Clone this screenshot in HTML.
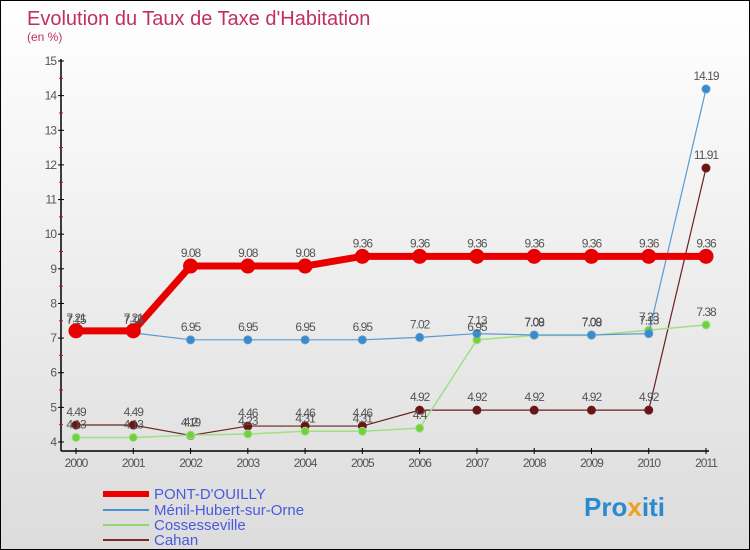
<!DOCTYPE html>
<html><head><meta charset="utf-8"><style>
body{margin:0}
#c{width:748px;height:548px;border:1px solid #000;background:linear-gradient(#fff,#dcdcdc);position:relative;overflow:hidden;font-family:"Liberation Sans",sans-serif}
</style></head><body>
<div id="c">
<svg width="748" height="548" id="s" style="position:absolute;left:0;top:0">
<text x="26" y="24" font-size="20" fill="#c0305f">Evolution du Taux de Taxe d'Habitation</text>
<text x="26" y="40" font-size="12" fill="#c0305f">(en %)</text>
<g id="axes"></g><g id="series"></g><g id="labels"></g>
<g>
<line x1="102" y1="493" x2="148" y2="493" stroke="#e00" stroke-width="6"/>
<text x="153" y="498" font-size="15" fill="#4a5adc">PONT-D'OUILLY</text>
<line x1="102" y1="509" x2="148" y2="509" stroke="#4a90d0" stroke-width="2"/>
<text x="153" y="514" font-size="15" fill="#4a5adc">Ménil-Hubert-sur-Orne</text>
<line x1="102" y1="524" x2="148" y2="524" stroke="#90d870" stroke-width="2"/>
<text x="153" y="529" font-size="15" fill="#4a5adc">Cossesseville</text>
<line x1="102" y1="539" x2="148" y2="539" stroke="#7a2a2a" stroke-width="2"/>
<text x="153" y="544" font-size="15" fill="#4a5adc">Cahan</text>
</g>
<text x="583" y="515" font-size="26" font-weight="bold" fill="#2a8ad0">Pro<tspan fill="#f0a020">x</tspan>iti</text>
</svg>
</div>
<script>
const years=[2000,2001,2002,2003,2004,2005,2006,2007,2008,2009,2010,2011];
const pont=[7.21,7.21,9.08,9.08,9.08,9.36,9.36,9.36,9.36,9.36,9.36,9.36];
const menil=[7.15,7.15,6.95,6.95,6.95,6.95,7.02,7.13,7.09,7.09,7.13,14.19];
const cosse=[4.13,4.13,4.2,4.23,4.31,4.31,4.4,6.95,7.08,7.08,7.23,7.38];
const cahan=[4.49,4.49,4.19,4.46,4.46,4.46,4.92,4.92,4.92,4.92,4.92,11.91];
const yTicks=[4,5,6,7,8,9,10,11,12,13,14,15];
const NS="http://www.w3.org/2000/svg";
const X=i=>75+i*(630/11);
const Y=v=>441-(v-4)*(381/11);
function mk(t,a,p){const e=document.createElementNS(NS,t);for(const k in a)e.setAttribute(k,a[k]);p.appendChild(e);return e;}
const ax=document.getElementById('axes');
let l=mk('line',{x1:60,y1:58,x2:60,y2:450,stroke:'#000','stroke-width':1.5},ax);


l=mk('line',{x1:60,y1:450,x2:708,y2:450,stroke:'#000','stroke-width':1.5},ax);


yTicks.forEach(v=>{
 mk('line',{x1:57,x2:63,y1:Y(v),y2:Y(v),stroke:'#000'},ax);
 if(v<15)mk('line',{x1:58,x2:62,y1:Y(v+0.5),y2:Y(v+0.5),stroke:'#e00'},ax);
 const t=mk('text',{x:55,y:Y(v)+4,'font-size':12,fill:'#555','text-anchor':'end','letter-spacing':'-1'},ax);
 t.textContent=v;
 
 
});
years.forEach((y,i)=>{
 mk('line',{x1:X(i),x2:X(i),y1:447,y2:453,stroke:'#000'},ax);
 const t=mk('text',{x:X(i),y:466,'font-size':12,fill:'#555','text-anchor':'middle','letter-spacing':'-1'},ax);
 t.textContent=y;
 
 
});
const sg=document.getElementById('series'),lg=document.getElementById('labels');
function series(d,name,col,w,r,fill){
 const p=mk('polyline',{points:d.map((v,i)=>X(i)+','+Y(v)).join(' '),fill:'none',stroke:col,'stroke-width':w,'stroke-linejoin':'round'},sg);
 
 
 d.forEach((v,i)=>{
  const c=mk('circle',{cx:X(i),cy:Y(v),r:r,fill:fill,stroke:col,'stroke-width':1},sg);
  
  
  const t=mk('text',{x:X(i),y:Y(v)-9,'font-size':12,fill:'#555','text-anchor':'middle','letter-spacing':'-1'},lg);
  t.textContent=v;
  
  
 });
}
series(cahan,'cahan','#6a2020',1.2,4,'#6a1515');
series(cosse,'cossesseville','#a0e080',1.5,4,'#70d040');
series(menil,'menil','#5a9ad0',1.2,4,'#3a8ad0');
series(pont,'pont-douilly','#e80000',7,7,'#e80000');
</script>
</body></html>
